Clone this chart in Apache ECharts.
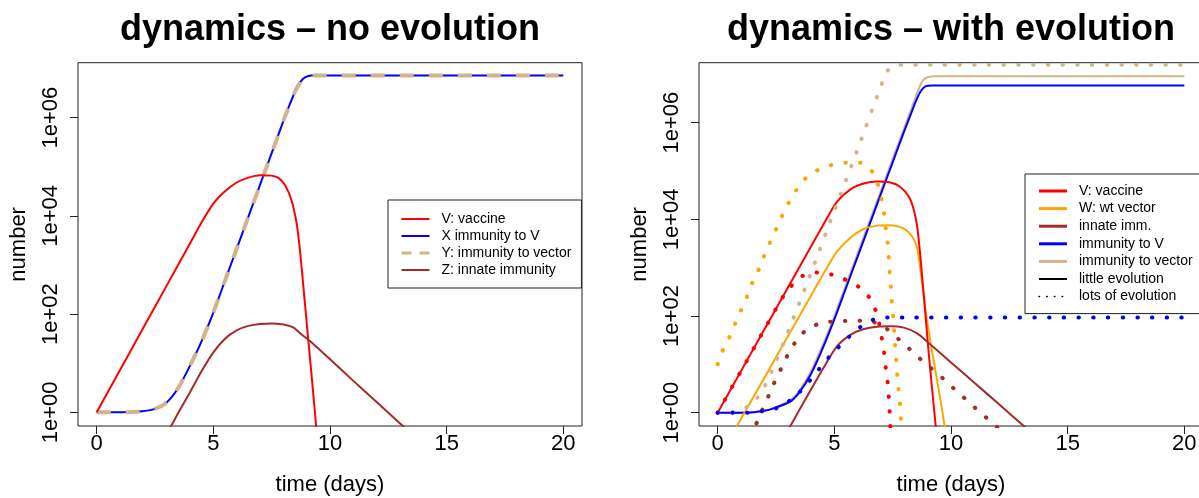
<!DOCTYPE html>
<html><head><meta charset="utf-8">
<script src="https://cdn.jsdelivr.net/npm/echarts@6/dist/echarts.min.js"></script>
<style>html,body{margin:0;padding:0;background:#fff}#c{width:1199px;height:498px}</style>
</head><body><div id="c"></div>
<script>
// ---- values are [time (days), log10(number)] ----
const xTicks = [0, 5, 10, 15, 20];
const yTicksLog = [0, 2, 4, 6];   // 1e+00 .. 1e+06

// Left panel: no evolution
const leftV = [[0,0],[1,0.86],[2,1.72],[3,2.58],[4,3.44],[4.5,3.87],[5,4.25],[5.5,4.5],[6,4.68],[6.5,4.78],[7,4.83],[7.5,4.82],[7.8,4.77],[8.07,4.63],[8.35,4.32],[8.57,3.85],[8.71,3.31],[8.9,2.35],[9.07,1.47],[9.25,0.55],[9.4,-0.25],[9.55,-1.0]];
const leftX = [[0,0],[0.7,0],[1.7,0.01],[2.5,0.07],[3.0,0.2],[3.5,0.5],[4.0,0.95],[4.5,1.45],[5.0,2.03],[5.5,2.68],[6.0,3.33],[6.5,3.98],[7.0,4.63],[7.5,5.28],[8.0,5.93],[8.3,6.3],[8.53,6.56],[8.75,6.74],[8.93,6.82],[9.2,6.86],[20,6.86]];
const leftY = leftX.map(p => [p[0], p[1]]);
const leftZ = [[2.9,-0.5],[3.19,-0.28],[3.5,-0.01],[4.0,0.41],[4.5,0.84],[5.0,1.22],[5.5,1.5],[6.0,1.67],[6.5,1.76],[7.0,1.8],[7.5,1.81],[8.0,1.79],[8.43,1.73],[8.72,1.61],[9.14,1.45],[10,1.08],[11,0.64],[12,0.21],[13.12,-0.28],[13.5,-0.45]];

// Right panel: with evolution, little evolution (solid)
const rightV = [[0,0],[1,0.86],[2,1.72],[3,2.58],[4,3.44],[4.54,3.9],[5.11,4.36],[5.69,4.62],[6.26,4.74],[6.83,4.78],[7.4,4.76],[7.83,4.67],[8.19,4.47],[8.41,4.19],[8.55,3.85],[8.66,3.37],[8.84,2.4],[9.05,1.2],[9.34,-0.25],[9.5,-1.0]];
const rightW = [[0.6,-0.47],[0.82,-0.28],[2,0.72],[3,1.57],[4,2.42],[4.6,2.93],[5.11,3.33],[5.69,3.62],[6.26,3.8],[6.83,3.87],[7.4,3.88],[7.98,3.81],[8.34,3.64],[8.55,3.4],[8.72,2.85],[8.9,2.15],[9.21,1.2],[9.5,0.4],[9.72,-0.25],[9.9,-0.8]];
const rightInnate = [[2.9,-0.46],[3.11,-0.28],[4,0.48],[4.5,0.9],[5.11,1.37],[5.69,1.61],[6.26,1.73],[6.83,1.78],[7.4,1.79],[7.98,1.76],[8.55,1.64],[8.98,1.47],[10,1.04],[11,0.62],[12,0.2],[13.13,-0.28],[13.5,-0.44]];
const rightImmV = [[0,0],[1.25,0],[2.0,0.04],[2.4,0.09],[3.11,0.23],[3.5,0.42],[4.0,0.8],[4.5,1.33],[5.0,1.93],[5.5,2.58],[6.0,3.23],[6.5,3.88],[7.0,4.53],[7.5,5.18],[8.0,5.83],[8.3,6.2],[8.5,6.45],[8.7,6.65],[8.9,6.75],[9.2,6.77],[20,6.77]];
const rightImmVec = [[0,0],[1.25,0],[2.0,0.04],[2.4,0.1],[3.11,0.26],[3.5,0.46],[4.0,0.86],[4.5,1.4],[5.0,2.0],[5.5,2.65],[6.0,3.3],[6.5,3.95],[7.0,4.6],[7.5,5.25],[8.0,5.9],[8.3,6.29],[8.6,6.68],[8.8,6.88],[9.0,6.94],[9.3,6.96],[20,6.96]];

// Right panel: lots of evolution (dotted)
const lotsV = [[0,0],[1,0.86],[2,1.72],[2.5,2.15],[2.8,2.4],[3.15,2.62],[3.64,2.83],[4.24,2.9],[4.86,2.86],[5.44,2.76],[6.02,2.61],[6.46,2.41],[6.75,2.14],[6.92,1.85],[7.03,1.55],[7.13,1.25],[7.2,0.95],[7.28,0.65],[7.33,0.35],[7.37,0.03],[7.4,-0.28],[7.43,-0.6]];
const lotsW = [[0,1.0],[0.21,1.28],[0.5,1.56],[0.74,1.83],[0.99,2.11],[1.25,2.39],[1.48,2.68],[1.74,2.94],[1.98,3.23],[2.23,3.51],[2.5,3.79],[2.76,4.07],[3.03,4.33],[3.36,4.6],[3.75,4.84],[4.25,5.01],[4.86,5.12],[5.47,5.17],[6.1,5.17],[6.6,5.0],[6.86,4.73],[7.02,4.43],[7.13,4.13],[7.2,3.83],[7.28,3.53],[7.33,3.23],[7.37,2.92],[7.42,2.62],[7.46,2.32],[7.52,2.01],[7.56,1.72],[7.6,1.41],[7.65,1.11],[7.69,0.81],[7.75,0.5],[7.81,0.2],[7.85,-0.1],[7.88,-0.3],[7.92,-0.6]];
const lotsInnate = [[1.4,-0.5],[1.75,-0.13],[1.99,0.15],[2.25,0.42],[2.5,0.7],[2.78,0.97],[3.06,1.25],[3.39,1.5],[3.82,1.72],[4.4,1.85],[5.01,1.89],[5.66,1.9],[6.29,1.9],[6.92,1.84],[7.42,1.67],[7.89,1.46],[8.36,1.26],[8.82,1.05],[9.3,0.86],[9.77,0.66],[10.23,0.45],[10.7,0.25],[11.17,0.04],[11.65,-0.16],[12.0,-0.31],[12.3,-0.44]];
const lotsImmV = [[0,0],[1.27,0],[1.89,0.03],[2.5,0.09],[3.06,0.24],[3.52,0.43],[3.94,0.66],[4.34,0.9],[4.75,1.14],[5.17,1.35],[5.63,1.57],[6.11,1.77],[6.64,1.92],[7.26,1.97],[20,1.97]];
const lotsImmVec = [[0,0],[0.6,0.01],[1.25,0.12],[1.7,0.31],[2.03,0.56],[2.5,1.06],[3,1.66],[4,2.89],[5,4.18],[6,5.45],[7,6.76],[7.28,7.07],[7.5,7.17],[7.76,7.2],[20,7.2]];

// ---- chart ----
const FONT = 'Liberation Sans, Arial, Helvetica, sans-serif';
const C = {red:'#FF0000', blue:'#0000FF', tan:'#D2B48C', brown:'#A52A2A', orange:'#FFA500', black:'#000000'};
const DOT = [0.5, 14.2];

function line(name, data, color, idx, width, dash, cap, z) {
  return {
    type: 'line', name: name, data: data, xAxisIndex: idx, yAxisIndex: idx,
    symbol: 'none', showSymbol: false, smooth: 0.25, clip: true, z: z || 2,
    itemStyle: {color: color},
    lineStyle: {color: color, width: width, type: dash || 'solid', cap: cap || 'butt'},
    emphasis: {disabled: true}, silent: true
  };
}

function xAxis(idx) {
  return {
    type: 'value', gridIndex: idx, min: -0.8, max: 20.8,
    axisLine: {show: false, onZero: false}, splitLine: {show: false},
    axisTick: {show: true, customValues: xTicks, length: 8, lineStyle: {color: '#222'}},
    axisLabel: {customValues: xTicks, fontSize: 22, color: '#000', margin: 7, fontFamily: FONT},
    name: 'time (days)', nameLocation: 'middle', nameGap: 48,
    nameTextStyle: {fontSize: 22, color: '#000', fontFamily: FONT}
  };
}
function yAxis(idx, mn, mx) {
  return {
    type: 'value', gridIndex: idx, min: mn, max: mx,
    axisLine: {show: false, onZero: false}, splitLine: {show: false},
    axisTick: {show: true, customValues: yTicksLog, length: 8, lineStyle: {color: '#222'}},
    axisLabel: {customValues: yTicksLog, rotate: 90, fontSize: 22, color: '#000', margin: 16, fontFamily: FONT,
      formatter: v => '1e+' + (v < 10 ? '0' : '') + v},
    name: 'number', nameLocation: 'middle', nameGap: 48, nameRotate: 90,
    nameTextStyle: {fontSize: 22, color: '#000', fontFamily: FONT}
  };
}

const hiddenSymbol = {color: 'rgba(0,0,0,0)', borderWidth: 0, opacity: 0};

const chart = echarts.init(document.getElementById('c'), null, {renderer: 'canvas'});
chart.setOption({
  animation: false,
  backgroundColor: '#fff',
  title: [
    {text: 'dynamics – no evolution', left: 330, top: 12, textAlign: 'center', padding: 0,
     textStyle: {fontSize: 36, fontWeight: 'bold', color: '#000', fontFamily: FONT}},
    {text: 'dynamics – with evolution', left: 951, top: 12, textAlign: 'center', padding: 0,
     textStyle: {fontSize: 36, fontWeight: 'bold', color: '#000', fontFamily: FONT}}
  ],
  grid: [
    {left: 78, top: 62.7, width: 504, height: 363.3, show: true, borderColor: '#222', borderWidth: 1, containLabel: false, outerBoundsMode: 'none'},
    {left: 699, top: 62.7, width: 504, height: 363.3, show: true, borderColor: '#222', borderWidth: 1, containLabel: false, outerBoundsMode: 'none'}
  ],
  xAxis: [xAxis(0), xAxis(1)],
  yAxis: [yAxis(0, -0.279, 7.12), yAxis(1, -0.275, 7.24)],
  legend: [
    {orient: 'vertical', left: 388, top: 200, padding: [12, 10, 11, 12], itemWidth: 28, itemHeight: 14, itemGap: 3,
     borderColor: '#222', borderWidth: 1, borderRadius: 0, backgroundColor: '#fff', selectedMode: false,
     itemStyle: hiddenSymbol,
     textStyle: {fontSize: 14, color: '#000', fontFamily: FONT, padding: [0, 0, 0, 7]},
     data: [
       {name: 'V: vaccine', lineStyle: {width: 2}},
       {name: 'X immunity to V', lineStyle: {width: 2}},
       {name: 'Y: immunity to vector', lineStyle: {width: 3, type: [10, 8]}},
       {name: 'Z: innate immunity', lineStyle: {width: 2}}
     ]},
    {orient: 'vertical', left: 1025, top: 174, padding: [10, 10, 10, 12.5], itemWidth: 28, itemHeight: 14, itemGap: 3.6,
     borderColor: '#222', borderWidth: 1, borderRadius: 0, backgroundColor: '#fff', selectedMode: false,
     itemStyle: hiddenSymbol,
     textStyle: {fontSize: 14, color: '#000', fontFamily: FONT, padding: [0, 0, 0, 7]},
     data: [
       {name: 'V: vaccine', lineStyle: {width: 3}},
       {name: 'W: wt vector', lineStyle: {width: 3}},
       {name: 'innate imm.', lineStyle: {width: 3}},
       {name: 'immunity to V', lineStyle: {width: 3}},
       {name: 'immunity to vector', lineStyle: {width: 3}},
       {name: 'little evolution', lineStyle: {width: 2}},
       {name: 'lots of evolution', lineStyle: {width: 1.5, type: [0.5, 7.2], cap: 'round'}}
     ]}
  ],
  series: [
    // left
    line('X immunity to V', leftX, C.blue, 0, 2),
    line('Y: immunity to vector', leftY, C.tan, 0, 4, [14, 15], 'butt', 3),
    line('V: vaccine', leftV, C.red, 0, 2, null, null, 4),
    line('Z: innate immunity', leftZ, C.brown, 0, 2, null, null, 4),
    // right, little evolution
    line('immunity to vector', rightImmVec, C.tan, 1, 2),
    line('immunity to V', rightImmV, C.blue, 1, 2),
    line('W: wt vector', rightW, C.orange, 1, 2),
    line('V: vaccine', rightV, C.red, 1, 2),
    line('innate imm.', rightInnate, C.brown, 1, 2),
    // right, lots of evolution
    line('immunity to vector', lotsImmVec, C.tan, 1, 4, DOT, 'round', 5),
    line('W: wt vector', lotsW, C.orange, 1, 4, DOT, 'round', 5),
    line('V: vaccine', lotsV, C.red, 1, 4, DOT, 'round', 5),
    line('innate imm.', lotsInnate, C.brown, 1, 4, DOT, 'round', 5),
    line('immunity to V', lotsImmV, C.blue, 1, 4, DOT, 'round', 5),
    // legend-only entries
    line('little evolution', [], C.black, 1, 2),
    line('lots of evolution', [], C.black, 1, 1.5, [0.5, 7.2], 'round')
  ]
});
</script></body></html>
